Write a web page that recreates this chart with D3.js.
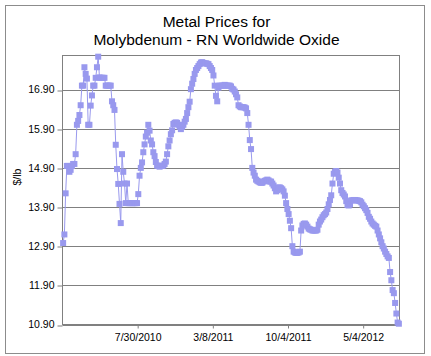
<!DOCTYPE html>
<html><head><meta charset="utf-8">
<script src="https://cdn.jsdelivr.net/npm/d3@7"></script>
<style>html,body{margin:0;padding:0;background:#fff;} svg{display:block;}</style>
</head><body>
<svg id="chart" width="431" height="356"></svg>
<script>
const titleLines = ["Metal Prices for", "Molybdenum - RN Worldwide Oxide"];
const yAxisTitle = "$/lb";
const yTicks = [10.90, 11.90, 12.90, 13.90, 14.90, 15.90, 16.90];
const xTickIndex = [60, 120, 180, 240];
const xTickLabels = ["7/30/2010", "3/8/2011", "10/4/2011", "5/4/2012"];
const prices = [
  12.98, 13.20, 14.25, 14.95, 14.95, 14.80, 14.85, 14.95, 15.00, 15.00,
  15.25, 16.00, 16.10, 16.25, 16.50, 17.00, 17.00, 17.47, 17.30, 17.18,
  16.00, 16.00, 16.49, 16.75, 17.00, 17.00, 17.20, 17.47, 17.74, 17.21,
  17.20, 17.20, 17.20, 17.20, 17.00, 17.00, 17.00, 17.00, 17.00, 16.60,
  16.50, 16.38, 15.49, 14.87, 14.49, 13.98, 13.49, 15.25, 14.80, 14.50,
  14.00, 14.50, 14.00, 14.00, 14.00, 14.00, 14.00, 14.00, 14.00, 14.00,
  14.23, 14.70, 14.90, 15.04, 15.30, 15.50, 15.70, 15.80, 16.00, 15.85,
  15.60, 15.50, 15.30, 15.20, 15.05, 14.96, 14.95, 14.93, 14.95, 14.95,
  14.96, 15.00, 15.06, 15.25, 15.45, 15.60, 15.76, 15.86, 16.02, 16.05,
  16.06, 16.05, 16.00, 15.95, 15.89, 15.95, 16.00, 16.08, 16.15, 16.30,
  16.45, 16.59, 16.91, 17.05, 17.17, 17.30, 17.40, 17.45, 17.50, 17.55,
  17.59, 17.60, 17.58, 17.57, 17.57, 17.56, 17.55, 17.50, 17.45, 17.40,
  17.26, 17.00, 16.74, 16.60, 16.95, 17.00, 17.00, 17.00, 17.00, 17.02,
  17.00, 17.00, 17.00, 17.00, 16.98, 16.92, 16.90, 16.85, 16.78, 16.70,
  16.50, 16.47, 16.45, 16.45, 16.45, 16.44, 16.42, 16.30, 16.00, 15.61,
  15.38, 14.90, 14.78, 14.70, 14.60, 14.57, 14.55, 14.53, 14.52, 14.52,
  14.55, 14.57, 14.58, 14.60, 14.58, 14.55, 14.55, 14.50, 14.45, 14.38,
  14.30, 14.33, 14.40, 14.40, 14.38, 14.35, 14.30, 14.19, 14.00, 13.85,
  13.72, 13.55, 13.36, 12.90, 12.76, 12.74, 12.73, 12.73, 12.74, 12.76,
  13.30, 13.43, 13.47, 13.48, 13.45, 13.40, 13.35, 13.33, 13.32, 13.30,
  13.30, 13.30, 13.30, 13.32, 13.45, 13.53, 13.58, 13.64, 13.69, 13.72,
  13.76, 13.85, 13.97, 14.08, 14.20, 14.50, 14.75, 14.80, 14.82, 14.78,
  14.65, 14.50, 14.33, 14.26, 14.22, 14.17, 14.05, 13.95, 13.94, 13.97,
  14.07, 14.07, 14.08, 14.08, 14.07, 14.07, 14.06, 14.05, 14.02, 13.96,
  13.92, 13.87, 13.82, 13.75, 13.65, 13.60, 13.53, 13.48, 13.45, 13.42,
  13.40, 13.30, 13.20, 13.10, 13.00, 12.90, 12.84, 12.76, 12.70, 12.64,
  12.60, 12.24, 12.03, 11.78, 11.70, 11.45, 11.18, 10.95, 10.92
];

const FONT = "'Liberation Sans', Arial, sans-serif";
const seriesColor = "#9999ee";
const frameColor = "#808080";
const plot = {left: 62.5, right: 399.5, top: 55.5, bottom: 324.5};

const svg = d3.select("#chart");
svg.append("rect").attr("x", 5.5).attr("y", 5.5).attr("width", 419).attr("height", 348)
  .attr("fill", "#fff").attr("stroke", "#8c8c8c");

const x = d3.scaleLinear().domain([0, prices.length]).range([plot.left, plot.right]);
const y = d3.scaleLinear().domain([10.9, 17.77]).range([plot.bottom, plot.top]);

// gridlines
svg.append("g").selectAll("line").data(yTicks).join("line")
  .attr("x1", plot.left).attr("x2", plot.right)
  .attr("y1", d => Math.round(y(d)) + 0.5).attr("y2", d => Math.round(y(d)) + 0.5)
  .attr("stroke", frameColor).attr("stroke-width", 1);

// plot frame
svg.append("rect").attr("x", plot.left).attr("y", plot.top)
  .attr("width", plot.right - plot.left).attr("height", plot.bottom - plot.top)
  .attr("fill", "none").attr("stroke", frameColor);

// y axis
const yAxis = svg.append("g").attr("transform", `translate(${plot.left},0)`)
  .call(d3.axisLeft(y).tickValues(yTicks).tickFormat(d => d.toFixed(2)).tickSize(5).tickPadding(3));
yAxis.select(".domain").remove();
yAxis.selectAll(".tick line").attr("stroke", frameColor)
  .attr("transform", d => `translate(0,${Math.round(y(d)) + 0.5 - y(d)})`);
yAxis.selectAll(".tick text").attr("font-family", FONT).attr("font-size", "10.5px").attr("fill", "#000");

// x axis
const xAxis = svg.append("g").attr("transform", `translate(0,${plot.bottom})`)
  .call(d3.axisBottom(x).tickValues(xTickIndex).tickFormat((d, i) => xTickLabels[i]).tickSize(4).tickPadding(5));
xAxis.select(".domain").remove();
xAxis.selectAll(".tick line").attr("stroke", frameColor);
xAxis.selectAll(".tick text").attr("font-family", FONT).attr("font-size", "10.5px").attr("fill", "#000");

// title
svg.append("g").selectAll("text").data(titleLines).join("text")
  .attr("x", 216.5).attr("y", (d, i) => 26.7 + i * 18.3)
  .attr("text-anchor", "middle").attr("font-family", FONT).attr("font-size", "15.5px")
  .attr("fill", "#000").text(d => d);

// y axis title
svg.append("text").attr("transform", "translate(21,177) rotate(-90)")
  .attr("text-anchor", "middle").attr("font-family", FONT).attr("font-size", "10.5px")
  .attr("fill", "#000").text(yAxisTitle);

// series
const px = (d, i) => x(i + 0.5);
svg.append("path").datum(prices)
  .attr("fill", "none").attr("stroke", seriesColor).attr("stroke-width", 1)
  .attr("d", d3.line().x(px).y(d => y(d)));
const ms = 6;
svg.append("g").selectAll("rect").data(prices).join("rect")
  .attr("x", (d, i) => px(d, i) - ms / 2).attr("y", d => y(d) - ms / 2)
  .attr("width", ms).attr("height", ms).attr("fill", seriesColor);
</script>
</body></html>
